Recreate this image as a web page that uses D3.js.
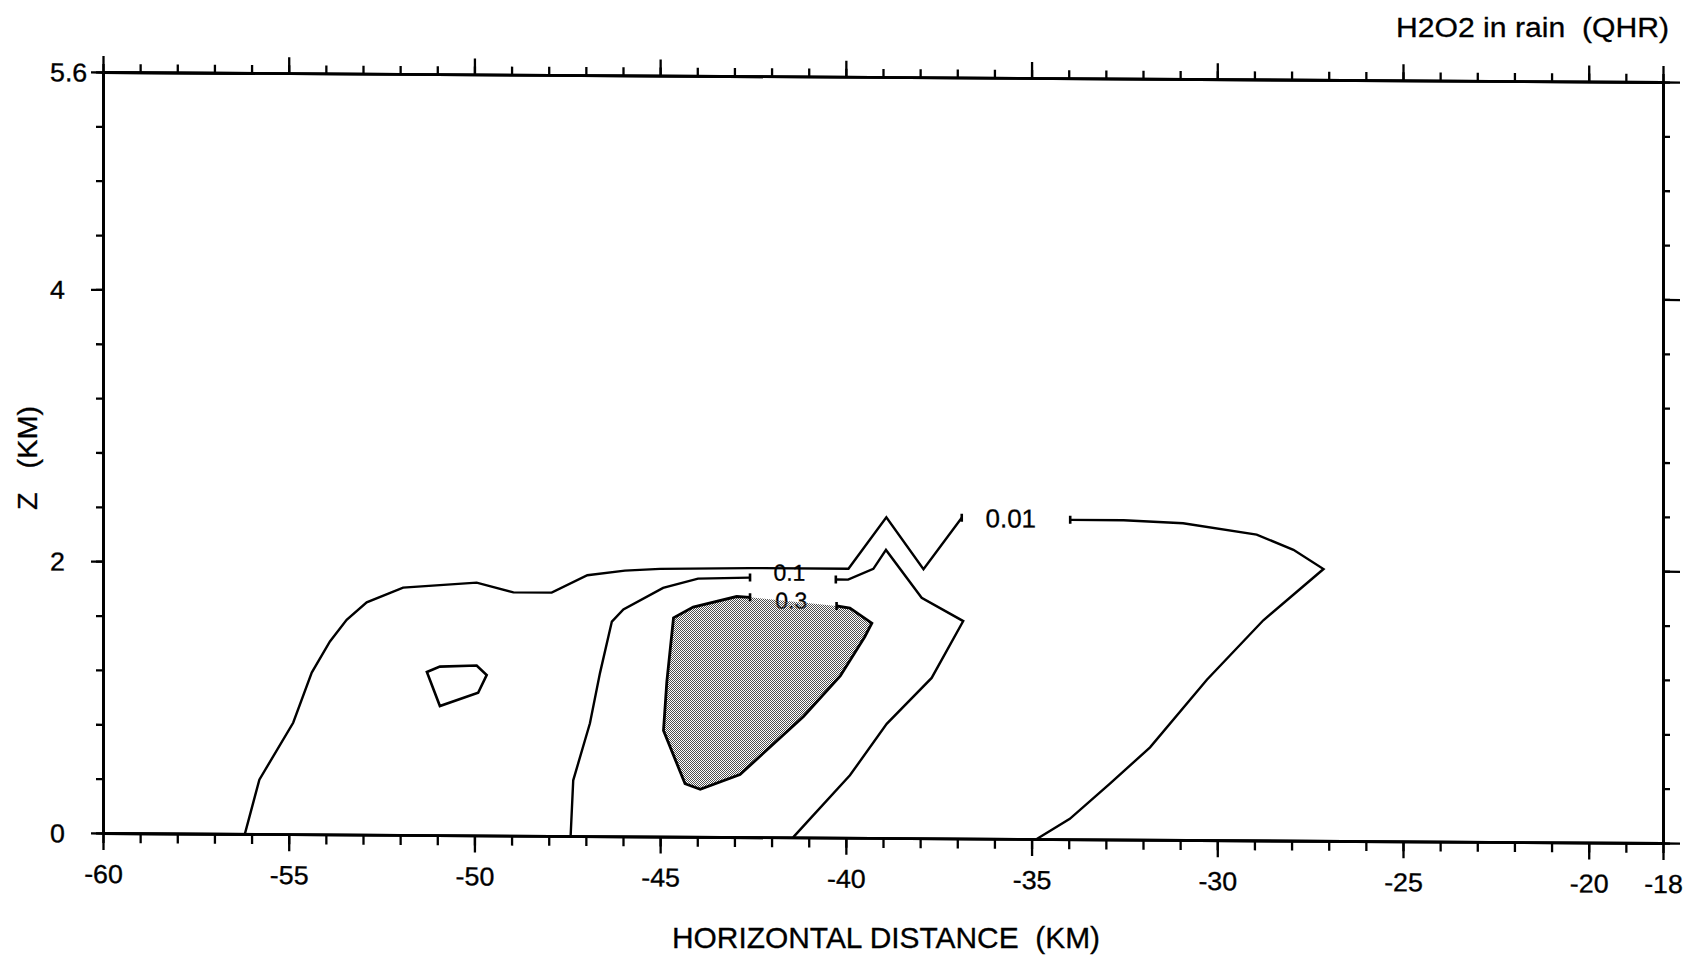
<!DOCTYPE html>
<html><head><meta charset="utf-8">
<script src="https://cdn.jsdelivr.net/npm/d3@7"></script>
<style>
html,body{margin:0;padding:0;background:#fff;}
svg{display:block;font-family:"Liberation Sans",Arial,Helvetica,sans-serif;}
text{white-space:pre;}
</style></head><body>
<svg id="chart" width="1687" height="957"></svg>
<script>
// ---------- data ----------
const xDomain = [-60, -18];
const zDomain = [0, 5.6];
const xTicks = [-60,-59,-58,-57,-56,-55,-54,-53,-52,-51,-50,-49,-48,-47,-46,-45,-44,-43,-42,-41,-40,
                -39,-38,-37,-36,-35,-34,-33,-32,-31,-30,-29,-28,-27,-26,-25,-24,-23,-22,-21,-20,-19,-18];
const xMajorTicks = [-60,-55,-50,-45,-40,-35,-30,-25,-20,-18];
const zTicks = [0,0.4,0.8,1.2,1.6,2,2.4,2.8,3.2,3.6,4,4.4,4.8,5.2,5.6];
const zMajorTicks = [0,2,4,5.6];

// contour 0.01 (broken by its label)
const c001West = [[-56.18,0],[-55.79,0.40],[-54.88,0.82],[-54.38,1.19],[-53.89,1.42],[-53.44,1.58],
  [-52.90,1.71],[-51.92,1.82],[-49.94,1.86],[-48.95,1.79],[-47.92,1.79],[-46.96,1.92],[-45.95,1.955],
  [-45.00,1.97],[-42.58,1.98],[-39.93,1.98],[-38.91,2.36],[-37.91,1.98],[-36.88,2.36]];
const c001East = [[-33.96,2.35],[-32.52,2.35],[-30.92,2.33],[-28.94,2.25],[-27.95,2.14],[-27.14,2.00],
  [-28.76,1.62],[-30.28,1.18],[-31.81,0.68],[-32.89,0.41],[-33.97,0.15],[-34.86,0]];
// contour 0.1 (broken by its label)
const c01West = [[-47.41,0],[-47.34,0.41],[-46.89,0.83],[-46.62,1.20],[-46.30,1.58],[-45.99,1.67],
  [-44.92,1.83],[-43.98,1.90],[-42.58,1.91]];
const c01East = [[-40.27,1.90],[-39.94,1.90],[-39.26,1.98],[-38.92,2.12],[-37.96,1.77],[-36.84,1.60],
  [-37.69,1.18],[-38.90,0.84],[-39.89,0.46],[-40.99,0.13],[-41.42,0]];
// small closed contour
const cIsland = [[-51.28,1.20],[-50.93,1.24],[-49.94,1.25],[-49.67,1.18],[-49.90,1.05],[-50.93,0.95]];
// contour 0.3 (shaded), gap at top for its label
const c03 = [[-40.25,1.705],[-39.89,1.69],[-39.30,1.58],[-39.49,1.48],[-40.15,1.19],[-41.14,0.89],
  [-42.85,0.46],[-43.92,0.35],[-44.33,0.39],[-44.91,0.78],[-44.82,1.14],[-44.64,1.61],[-44.11,1.69],
  [-42.94,1.77],[-42.58,1.765]];

const labelTexts = ["0.01", "0.1", "0.3"];
const labelX = [-35.56, -41.52, -41.47];
const labelZ = [2.36, 1.95, 1.745];
const labelSize = [26, 23, 23];

const titleText = "H2O2 in rain  (QHR)";
const xTitle = "HORIZONTAL DISTANCE  (KM)";
const zTitle = "Z   (KM)";

// ---------- drawing ----------
const skew = 0.367;                       // slight tilt of the scanned frame
const k = Math.tan(skew * Math.PI / 180);
const svg = d3.select('#chart');
const x = d3.scaleLinear().domain(xDomain).range([103, 1663]);
const z = d3.scaleLinear().domain(zDomain).range([833, 72]);
const x0 = x(xDomain[0]);

const defs = svg.append('defs');
const pat = defs.append('pattern').attr('id', 'stipple')
  .attr('patternUnits', 'userSpaceOnUse').attr('width', 2).attr('height', 2)
  .attr('patternTransform', `skewY(${-skew}) translate(0,${x0 * k})`);
pat.append('rect').attr('x', 0).attr('y', 0).attr('width', 1).attr('height', 1).attr('fill', '#505050');
pat.append('rect').attr('x', 1).attr('y', 1).attr('width', 1).attr('height', 1).attr('fill', '#505050');

const g = svg.append('g').attr('transform', `translate(0,${-x0 * k}) skewY(${skew})`);

function styleAxis(sel) {
  sel.attr('font-family', null).attr('font-size', null);
  sel.select('.domain').attr('stroke', '#000').attr('stroke-width', 2.8);
  sel.selectAll('.tick line').attr('stroke', '#000').attr('stroke-width', 2.3);
}
const fmt = d => String(d);
const labelFont = 26, labelStretch = 1.03;

// bottom
g.append('g').attr('transform', `translate(0,${z(0)})`)
  .call(d3.axisBottom(x).tickValues(xTicks).tickSize(10).tickSizeOuter(0).tickFormat(''))
  .call(styleAxis);
const bMaj = g.append('g').attr('transform', `translate(0,${z(0)})`)
  .call(d3.axisBottom(x).tickValues(xMajorTicks).tickSize(17).tickSizeOuter(0).tickFormat(fmt))
  .call(styleAxis);
bMaj.selectAll('.tick text').attr('y', 50).attr('dy', null).attr('font-size', labelFont)
  .attr('fill', '#000').attr('stroke', '#000').attr('stroke-width', 0.35)
  .attr('transform', `scale(${labelStretch},1)`);

// top
g.append('g').attr('transform', `translate(0,${z(5.6)})`)
  .call(d3.axisTop(x).tickValues(xTicks).tickSize(8).tickSizeOuter(0).tickFormat(''))
  .call(styleAxis);
g.append('g').attr('transform', `translate(0,${z(5.6)})`)
  .call(d3.axisTop(x).tickValues(xMajorTicks).tickSize(16).tickSizeOuter(0).tickFormat(''))
  .call(styleAxis);

// left
g.append('g').attr('transform', `translate(${x(-60)},0)`)
  .call(d3.axisLeft(z).tickValues(zTicks).tickSize(7).tickSizeOuter(0).tickFormat(''))
  .call(styleAxis);
const lMaj = g.append('g').attr('transform', `translate(${x(-60)},0)`)
  .call(d3.axisLeft(z).tickValues(zMajorTicks).tickSize(12).tickSizeOuter(0).tickFormat(fmt))
  .call(styleAxis);
lMaj.selectAll('.tick text').attr('x', -53 / labelStretch).attr('dy', '0.35em')
  .attr('text-anchor', 'start').attr('font-size', labelFont)
  .attr('fill', '#000').attr('stroke', '#000').attr('stroke-width', 0.35)
  .attr('transform', `scale(${labelStretch},1)`);

// right
g.append('g').attr('transform', `translate(${x(-18)},0)`)
  .call(d3.axisRight(z).tickValues(zTicks).tickSize(7).tickSizeOuter(0).tickFormat(''))
  .call(styleAxis);
g.append('g').attr('transform', `translate(${x(-18)},0)`)
  .call(d3.axisRight(z).tickValues(zMajorTicks).tickSize(17).tickSizeOuter(0).tickFormat(''))
  .call(styleAxis);

// contour labels (drawn first so the stipple lies over the 0.3 label)
g.append('g').selectAll('text').data(labelTexts).join('text')
  .attr('x', (d, i) => x(labelX[i])).attr('y', (d, i) => z(labelZ[i]))
  .attr('dy', '0.36em').attr('text-anchor', 'middle').attr('font-size', (d, i) => labelSize[i])
  .attr('fill', '#000').attr('stroke', '#000').attr('stroke-width', 0.3)
  .text(d => d);

const line = d3.line().x(d => x(d[0])).y(d => z(d[1]));

// shaded 0.3 region
g.append('path').attr('d', line(c03) + 'Z').attr('fill', 'url(#stipple)').attr('stroke', 'none');

const lines = g.append('g').attr('fill', 'none').attr('stroke', '#000')
  .attr('stroke-linejoin', 'miter').attr('stroke-linecap', 'butt');
lines.append('path').attr('d', line(c03)).attr('stroke-width', 2.8);
[c001West, c001East, c01West, c01East].forEach(c =>
  lines.append('path').attr('d', line(c)).attr('stroke-width', 2.4));
lines.append('path').attr('d', line(cIsland) + 'Z').attr('stroke-width', 2.6);

// small bars at the ends where contours break for labels
const gapEnds = [c001West[c001West.length - 1], c001East[0], c01West[c01West.length - 1], c01East[0],
  c03[0], c03[c03.length - 1]];
lines.selectAll('line.gap').data(gapEnds).join('line').attr('class', 'gap')
  .attr('x1', d => x(d[0])).attr('x2', d => x(d[0]))
  .attr('y1', d => z(d[1]) - 4).attr('y2', d => z(d[1]) + 4).attr('stroke-width', 2.6);

// titles
const tStyle = s => s.attr('fill', '#000').attr('stroke', '#000').attr('stroke-width', 0.3)
  .attr('lengthAdjust', 'spacingAndGlyphs');
svg.append('text').attr('x', 1669).attr('y', 37).attr('text-anchor', 'end').attr('font-size', 27)
  .attr('textLength', 273).call(tStyle).text(titleText);
svg.append('text').attr('x', 886).attr('y', 948).attr('text-anchor', 'middle').attr('font-size', 30)
  .attr('textLength', 428).call(tStyle).text(xTitle);
svg.append('text').attr('transform', 'translate(37,458) rotate(-90)').attr('text-anchor', 'middle')
  .attr('font-size', 28).attr('textLength', 104).call(tStyle).text(zTitle);
</script>
</body></html>
